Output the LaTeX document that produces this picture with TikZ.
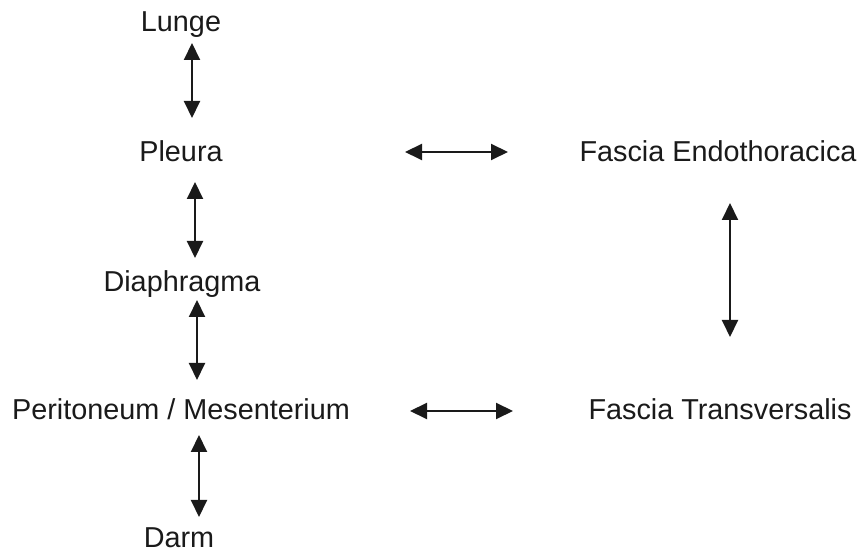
\documentclass[tikz,border=0pt]{standalone}
\usepackage{fontspec}
\setmainfont{Liberation Sans}
\usepackage{tikz}
\usetikzlibrary{arrows.meta}
\definecolor{ink}{HTML}{1A1A1A}
\tikzset{organ/.style={anchor=base,inner sep=0pt,text=ink,font=\fontsize{28.8}{34}\selectfont},pair/.style={{Triangle[length=17pt,width=16pt]}-{Triangle[length=17pt,width=16pt]},draw=ink,line width=2pt}}

\begin{document}
\begin{tikzpicture}[x=1pt,y=1pt]
 \useasboundingbox[fill=white] (0,0) rectangle (860,554);
 \node[organ] (lunge) at (181,522) {Lunge}; \node[organ] (pleura) at (181,392) {Pleura};
 \node[organ] (diaphragma) at (182,262) {Diaphragma}; \node[organ] (peritoneum) at (181,134) {Peritoneum / Mesenterium};
 \node[organ] (darm) at (179,6) {Darm};
 \node[organ] (endo) at (718,392) {Fascia Endothoracica}; \node[organ] (trans) at (720,134) {Fascia Transversalis};
 \coordinate (lp1) at (192,511); \coordinate (lp2) at (192,436); \draw[pair] (lp1) -- (lp2);
 \coordinate (pd1) at (195,372); \coordinate (pd2) at (195,296); \draw[pair] (pd1) -- (pd2);
 \coordinate (dp1) at (197,254); \coordinate (dp2) at (197,174); \draw[pair] (dp1) -- (dp2);
 \coordinate (pm1) at (199,119); \coordinate (pm2) at (199,37); \draw[pair] (pm1) -- (pm2);
 \coordinate (pe1) at (405,402); \coordinate (pe2) at (508,402); \draw[pair] (pe1) -- (pe2);
 \coordinate (pt1) at (410,143); \coordinate (pt2) at (513,143); \draw[pair] (pt1) -- (pt2);
 \coordinate (et1) at (730,351); \coordinate (et2) at (730,217); \draw[pair] (et1) -- (et2);
\end{tikzpicture}
\end{document}
